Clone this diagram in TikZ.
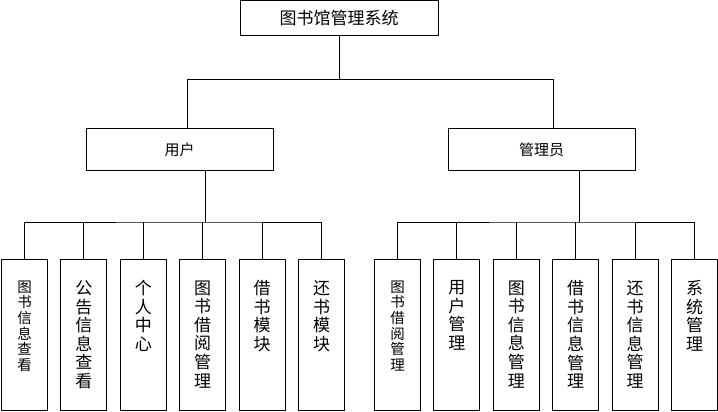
\documentclass[tikz,border=0pt]{standalone}
\usepackage{fontspec}
\newfontfamily\cjk{Noto Sans CJK SC}
\usetikzlibrary{positioning}

\begin{document}
\begin{tikzpicture}[
        x=1pt, y=-1pt,
        font=\cjk,
        node distance=0pt and 12.4pt,
        line width=1pt,
        head/.style={draw, inner sep=0pt, minimum width=198pt, minimum height=35pt,
                     font=\cjk\fontsize{17}{17}\selectfont},
        role/.style={draw, inner sep=0pt, minimum width=187pt, minimum height=42pt,
                     font=\cjk\fontsize{15}{15}\selectfont},
        vtext/.style={anchor=north, yshift=-21pt, align=center, inner sep=0pt,
                      font=\cjk\fontsize{17}{18.6}\selectfont},
        vsmall/.style={vtext, font=\cjk\fontsize{14.5}{15.7}\selectfont},
        leaf/.style={draw, inner sep=0pt, minimum width=46pt, minimum height=151pt,
                     label={[vtext]north:{#1}}},
        leafsm/.style={draw, inner sep=0pt, minimum width=46pt, minimum height=151pt,
                       label={[vsmall]north:{#1}}}
    ]
        \useasboundingbox (0,0) rectangle (718,412);

        \node[head] (root) at (339,18.5) {图书馆管理系统};
        \node[role] (user) at (179.5,149.5) {用户};
        \node[role] (admin) at (541.5,149.5) {管理员};

        % user side
        \node[leafsm={图\\书\\信\\息\\查\\看}, anchor=north west] (u1) at (1,259) {};
        \node[leaf={公\\告\\信\\息\\查\\看}, right=of u1] (u2) {};
        \node[leaf={个\\人\\中\\心}, right=of u2] (u3) {};
        \node[leaf={图\\书\\借\\阅\\管\\理}, right=of u3] (u4) {};
        \node[leaf={借\\书\\模\\块}, right=of u4] (u5) {};
        \node[leaf={还\\书\\模\\块}, right=of u5] (u6) {};

        % admin side
        \node[leafsm={图\\书\\借\\阅\\管\\理}, anchor=north west] (a1) at (374,259) {};
        \node[leaf={用\\户\\管\\理}, right=of a1] (a2) {};
        \node[leaf={图\\书\\信\\息\\管\\理}, right=of a2] (a3) {};
        \node[leaf={借\\书\\信\\息\\管\\理}, right=of a3] (a4) {};
        \node[leaf={还\\书\\信\\息\\管\\理}, right=of a4] (a5) {};
        \node[leaf={系\\统\\管\\理}, right=of a5] (a6) {};

        \draw (root.south) -- ++(0,43) coordinate (tbus);
        \draw ([xshift=7.5pt]user.north) |- (tbus) -| ([xshift=11.5pt]admin.north);

        \draw ([xshift=25.5pt]user.south) -- ++(0,51) coordinate (ubus);
        \draw (u1.north) |- (ubus) -| (u6.north);
        \draw (u2.north) -- (u2.north |- ubus);
        \draw (u3.north) -- (u3.north |- ubus);
        \draw (u4.north) -- (u4.north |- ubus);
        \draw (u5.north) -- (u5.north |- ubus);

        \draw ([xshift=37.5pt]admin.south) -- ++(0,51) coordinate (abus);
        \draw (a1.north) |- (abus) -| (a6.north);
        \draw (a2.north) -- (a2.north |- abus);
        \draw (a3.north) -- (a3.north |- abus);
        \draw (a4.north) -- (a4.north |- abus);
        \draw (a5.north) -- (a5.north |- abus);
    \end{tikzpicture}
\end{document}
